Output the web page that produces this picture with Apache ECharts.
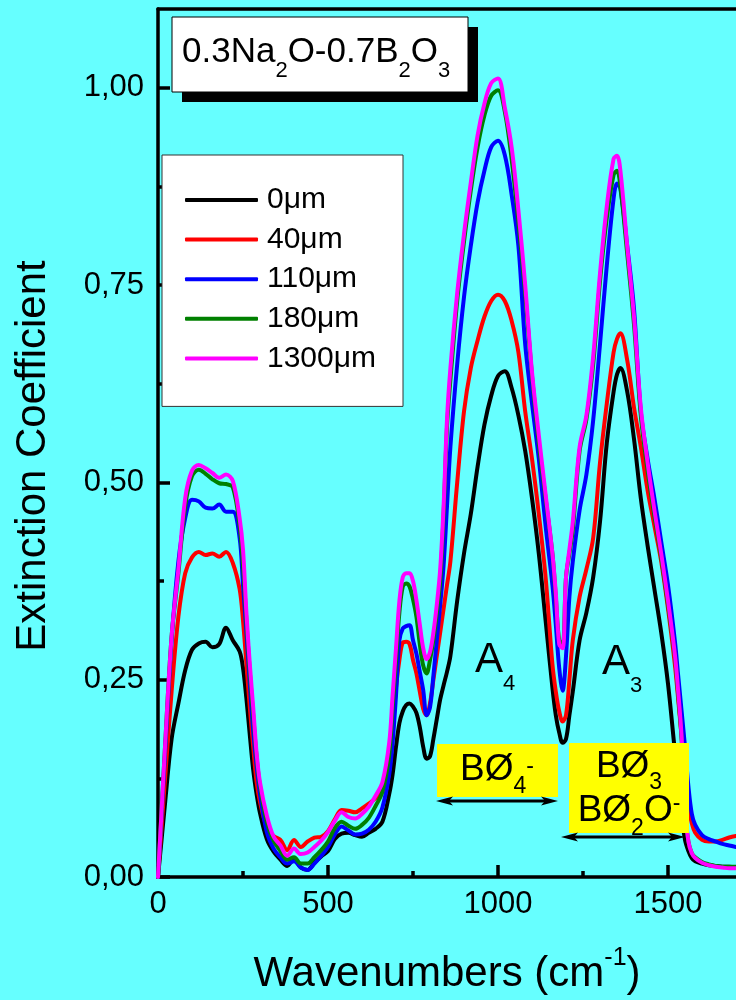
<!DOCTYPE html>
<html>
<head>
<meta charset="utf-8">
<title>Extinction coefficient spectra</title>
<script src="https://cdn.jsdelivr.net/npm/echarts@6/dist/echarts.min.js"></script>
<style>
  html, body { margin: 0; padding: 0; background: #66ffff; }
  #chart { width: 736px; height: 1000px; }
</style>
</head>
<body>
<div id="chart"></div>
<script>
// Wavenumber samples (cm^-1) shared by every spectrum
const wavenumbers = [
  0,10,20,40,60,80,100,120,140,160,180,200,220,240,250,260,270,280,290,300,
  320,340,360,380,400,420,440,460,480,500,520,540,560,580,600,620,640,660,680,
  690,700,710,720,730,740,750,760,770,780,790,800,810,820,830,840,850,860,
  880,900,920,940,960,980,1000,1020,1040,1060,1080,1100,1120,1140,1160,
  1170,1180,1190,1200,1210,1220,
  1240,1260,1280,1300,1320,1340,1350,1360,1380,1400,1420,1440,1460,1480,1500,1520,
  1530,1540,1550,1560,1570,1580,
  1600,1620,1640,1660,1680,1700
];

// Extinction coefficient for each depth
const ext0um = [
  0,0.045,0.09,0.175,0.22,0.262,0.288,0.296,0.298,0.291,0.295,0.316,0.30,0.286,0.265,0.226,0.18,0.136,0.105,0.081,
  0.048,0.032,0.022,0.014,0.023,0.012,0.009,0.018,0.026,0.033,0.048,0.055,0.056,0.053,0.051,0.056,0.061,0.07,0.105,
  0.13,0.165,0.195,0.21,0.218,0.22,0.216,0.208,0.19,0.165,0.15,0.153,0.175,0.20,0.225,0.243,0.26,0.28,
  0.35,0.41,0.46,0.52,0.573,0.61,0.635,0.641,0.62,0.585,0.54,0.48,0.41,0.325,0.24,
  0.205,0.183,0.17,0.175,0.205,0.235,
  0.30,0.335,0.38,0.45,0.55,0.615,0.637,0.645,0.615,0.555,0.48,0.42,0.365,0.31,0.245,0.16,
  0.12,0.08,0.047,0.033,0.024,0.02,
  0.017,0.015,0.014,0.013,0.013,0.012
];
const ext40um = [
  0,0.06,0.12,0.235,0.33,0.385,0.405,0.412,0.408,0.41,0.406,0.412,0.398,0.365,0.325,0.27,0.215,0.165,0.12,0.095,
  0.063,0.052,0.047,0.034,0.047,0.038,0.045,0.05,0.051,0.058,0.073,0.085,0.084,0.082,0.087,0.093,0.10,0.11,0.15,
  0.19,0.24,0.275,0.297,0.298,0.295,0.275,0.258,0.235,0.213,0.205,0.22,0.25,0.28,0.31,0.34,0.37,0.40,
  0.50,0.59,0.645,0.68,0.71,0.73,0.738,0.73,0.705,0.665,0.59,0.53,0.46,0.38,0.27,
  0.235,0.21,0.197,0.205,0.25,0.30,
  0.355,0.39,0.43,0.525,0.60,0.665,0.682,0.689,0.655,0.595,0.545,0.49,0.445,0.40,0.34,0.27,
  0.225,0.178,0.13,0.09,0.068,0.056,
  0.047,0.045,0.045,0.047,0.05,0.052
];
const ext110um = [
  0,0.075,0.15,0.30,0.40,0.455,0.478,0.476,0.468,0.467,0.472,0.463,0.463,0.43,0.37,0.31,0.245,0.185,0.14,0.105,
  0.057,0.036,0.025,0.017,0.02,0.012,0.009,0.017,0.027,0.038,0.054,0.064,0.059,0.054,0.055,0.06,0.07,0.088,0.13,
  0.17,0.23,0.30,0.315,0.318,0.319,0.30,0.283,0.26,0.237,0.205,0.215,0.255,0.30,0.345,0.395,0.47,0.545,
  0.65,0.735,0.80,0.855,0.895,0.925,0.933,0.915,0.865,0.80,0.675,0.60,0.53,0.445,0.37,
  0.32,0.265,0.236,0.28,0.355,0.40,
  0.465,0.51,0.579,0.675,0.775,0.86,0.879,0.872,0.80,0.72,0.59,0.53,0.48,0.425,0.37,0.30,
  0.255,0.21,0.165,0.115,0.08,0.066,
  0.053,0.048,0.045,0.042,0.04,0.038
];
const ext180um = [
  0,0.08,0.16,0.305,0.385,0.47,0.508,0.516,0.511,0.504,0.499,0.498,0.494,0.445,0.395,0.325,0.26,0.205,0.152,0.115,
  0.07,0.046,0.033,0.022,0.025,0.017,0.017,0.025,0.034,0.045,0.062,0.07,0.065,0.061,0.066,0.075,0.09,0.108,0.155,
  0.215,0.275,0.335,0.368,0.372,0.368,0.352,0.33,0.295,0.268,0.258,0.275,0.30,0.335,0.375,0.46,0.57,0.63,
  0.73,0.805,0.87,0.925,0.965,0.99,0.997,0.97,0.91,0.83,0.74,0.635,0.55,0.48,0.41,
  0.355,0.30,0.295,0.38,0.41,0.44,
  0.54,0.58,0.65,0.755,0.835,0.89,0.895,0.875,0.79,0.70,0.585,0.515,0.458,0.405,0.345,0.28,
  0.23,0.175,0.08,0.045,0.03,0.025,
  0.019,0.016,0.014,0.013,0.013,0.013
];
const ext1300um = [
  0,0.08,0.16,0.305,0.39,0.48,0.515,0.522,0.518,0.512,0.506,0.51,0.502,0.455,0.415,0.335,0.27,0.215,0.157,0.12,
  0.078,0.051,0.04,0.027,0.036,0.029,0.031,0.038,0.046,0.057,0.071,0.082,0.076,0.074,0.08,0.089,0.103,0.12,0.17,
  0.23,0.29,0.35,0.38,0.385,0.385,0.375,0.351,0.32,0.29,0.276,0.285,0.31,0.345,0.39,0.47,0.58,0.645,
  0.74,0.815,0.88,0.94,0.98,1.006,1.012,0.975,0.925,0.845,0.75,0.64,0.56,0.485,0.41,
  0.36,0.295,0.29,0.38,0.415,0.45,
  0.545,0.585,0.66,0.765,0.85,0.91,0.914,0.895,0.80,0.71,0.595,0.525,0.465,0.41,0.35,0.283,
  0.235,0.178,0.085,0.045,0.03,0.024,
  0.018,0.015,0.013,0.012,0.011,0.011
];

const seriesNames = ['0\u03bcm', '40\u03bcm', '110\u03bcm', '180\u03bcm', '1300\u03bcm'];
const seriesValues = [ext0um, ext40um, ext110um, ext180um, ext1300um];
const seriesColors = ['#000000', '#ff0000', '#0000ff', '#008000', '#ff00ff'];

// Axis ticks
const xMajorTicks = [0, 500, 1000, 1500];
const xMinorTicks = [250, 750, 1250];
const yMajorTicks = [0, 0.25, 0.5, 0.75, 1.0];
const yMinorTicks = [0.125, 0.375, 0.625, 0.875];

const FONT = '"Liberation Sans", Arial, Helvetica, sans-serif';
const AXIS_W = 3.5;

const chart = echarts.init(document.getElementById('chart'), null, { renderer: 'canvas' });

function arrow(x1, x2, y) {
  const h = 17, w = 4.5;
  return [
    { type: 'line', z: 120, shape: { x1: x1 + 10, y1: y, x2: x2 - 10, y2: y },
      style: { stroke: '#000', lineWidth: 3 } },
    { type: 'polygon', z: 121, shape: { points: [[x1, y], [x1 + h, y - w], [x1 + h - 4, y], [x1 + h, y + w]] },
      style: { fill: '#000' } },
    { type: 'polygon', z: 121, shape: { points: [[x2, y], [x2 - h, y - w], [x2 - h + 4, y], [x2 - h, y + w]] },
      style: { fill: '#000' } }
  ];
}

// Rich-text line with sub/superscripts. Every token is top-aligned and is
// pushed down by its top padding, so each glyph centre is placed explicitly:
// subDrop / supRise = distance of the small glyph centre below / above the
// centre of the main glyphs.
function formulaText(x, y, align, text, size, subSize, subDrop, supSize, supRise) {
  const pn = supSize ? Math.max(0, supRise + supSize / 2 - size / 2) : 0;
  const tok = (fs, pad) => ({ fontSize: fs, lineHeight: fs, fontFamily: FONT, fill: '#000',
    verticalAlign: 'top', padding: [pad, 0, 0, 0] });
  const rich = { n: tok(size, pn) };
  if (subSize) rich.s = tok(subSize, pn + size / 2 + subDrop - subSize / 2);
  if (supSize) rich.p = tok(supSize, pn + size / 2 - supRise - supSize / 2);
  // y is the centre of the main glyphs
  return { type: 'text', z: 111, x: x, y: y - pn - size / 2,
    style: { text: text, fill: '#000', align: align, verticalAlign: 'top', rich: rich } };
}

const baseAxisX = { type: 'value', min: 0, max: 1700, gridIndex: 0, splitLine: { show: false } };
const baseAxisY = { type: 'value', min: 0, max: 1.1, gridIndex: 0, splitLine: { show: false } };

const option = {
  animation: false,
  backgroundColor: '#66ffff',
  grid: { left: 158, top: 9, width: 578, height: 868, containLabel: false },
  xAxis: [
    Object.assign({}, baseAxisX, {
      position: 'bottom', interval: 500,
      axisLine: { onZero: false, lineStyle: { color: '#000', width: AXIS_W } },
      axisTick: { inside: true, length: 12, customValues: xMajorTicks, lineStyle: { color: '#000', width: 3.5 } },
      axisLabel: { customValues: xMajorTicks, margin: 12, fontSize: 31, color: '#000', fontFamily: FONT,
        formatter: v => String(v) }
    }),
    Object.assign({}, baseAxisX, {
      position: 'bottom', interval: 250,
      axisLine: { show: false, onZero: false },
      axisTick: { inside: true, length: 6, customValues: xMinorTicks, lineStyle: { color: '#000', width: 3.5 } },
      axisLabel: { show: false }
    }),
    Object.assign({}, baseAxisX, {
      position: 'top',
      axisLine: { onZero: false, lineStyle: { color: '#000', width: AXIS_W } },
      axisTick: { show: false },
      axisLabel: { show: false }
    })
  ],
  yAxis: [
    Object.assign({}, baseAxisY, {
      position: 'left', interval: 0.25,
      axisLine: { onZero: false, lineStyle: { color: '#000', width: AXIS_W } },
      axisTick: { inside: true, length: 12, customValues: yMajorTicks, lineStyle: { color: '#000', width: 3.5 } },
      axisLabel: {
        customValues: yMajorTicks, margin: 14, fontSize: 31, color: '#000', fontFamily: FONT,
        formatter: v => v.toFixed(2).replace('.', ',')
      }
    }),
    Object.assign({}, baseAxisY, {
      position: 'left', interval: 0.125,
      axisLine: { show: false, onZero: false },
      axisTick: { inside: true, length: 6, customValues: yMinorTicks, lineStyle: { color: '#000', width: 3.5 } },
      axisLabel: { show: false }
    })
  ],
  legend: {
    orient: 'vertical',
    left: 162, top: 155,
    backgroundColor: '#ffffff',
    borderColor: '#333333', borderWidth: 1, borderRadius: 0,
    padding: [30, 27, 33, 23],
    itemWidth: 73, itemHeight: 4, itemGap: 9.6,
    icon: 'roundRect',
    selectedMode: false,
    textStyle: { fontSize: 30, lineHeight: 30, color: '#000', fontFamily: FONT, padding: [0, 0, 0, 4] },
    data: seriesNames
  },
  series: seriesNames.map((name, i) => ({
    name: name,
    type: 'line',
    xAxisIndex: 0,
    yAxisIndex: 0,
    data: wavenumbers.map((w, j) => [w, seriesValues[i][j]]),
    showSymbol: false,
    symbol: 'none',
    smooth: 0.35,
    color: seriesColors[i],
    lineStyle: { color: seriesColors[i], width: 4, cap: 'round', join: 'round' },
    z: 2 + i
  })),
  graphic: [
    // composition label with drop shadow
    { type: 'rect', z: 100, shape: { x: 182, y: 27, width: 296, height: 75 }, style: { fill: '#000' } },
    { type: 'rect', z: 101, shape: { x: 172, y: 17, width: 296, height: 75 },
      style: { fill: '#fff', stroke: '#000', lineWidth: 1 } },
    formulaText(182, 52, 'left', '{n|0.3Na}{s|2}{n|O-0.7B}{s|2}{n|O}{s|3}', 35, 22, 18.5),

    // band labels
    formulaText(475, 660, 'left', '{n|A}{s|4}', 42, 22, 24),
    formulaText(602, 662, 'left', '{n|A}{s|3}', 42, 22, 24),

    // structural unit boxes
    { type: 'rect', z: 110, shape: { x: 437, y: 744, width: 121, height: 53 }, style: { fill: '#ffff00' } },
    formulaText(497, 770, 'center', '{n|B\u00d8}{s|4}{p|-}', 37, 23, 16.5, 23, 3.5),
    { type: 'rect', z: 110, shape: { x: 569, y: 743, width: 120, height: 90 }, style: { fill: '#ffff00' } },
    formulaText(629, 766.5, 'center', '{n|B\u00d8}{s|3}', 37, 23, 16),
    formulaText(629, 810.5, 'center', '{n|B\u00d8}{s|2}{n|O}{p|-}', 37, 23, 18, 23, 7),
    ...arrow(436, 558, 801),
    ...arrow(561, 685, 837),

    // axis titles
    { type: 'text', z: 102, x: 33, y: 456, rotation: Math.PI / 2,
      style: { text: 'Extinction Coefficient', fill: '#000', fontSize: 42, fontFamily: FONT, align: 'center', verticalAlign: 'middle' } },
    formulaText(447, 974, 'center', '{n|Wavenumbers (cm}{p|-1}{n|)}', 42, 0, 0, 25, 15.5)
  ]
};

chart.setOption(option);
</script>
</body>
</html>
